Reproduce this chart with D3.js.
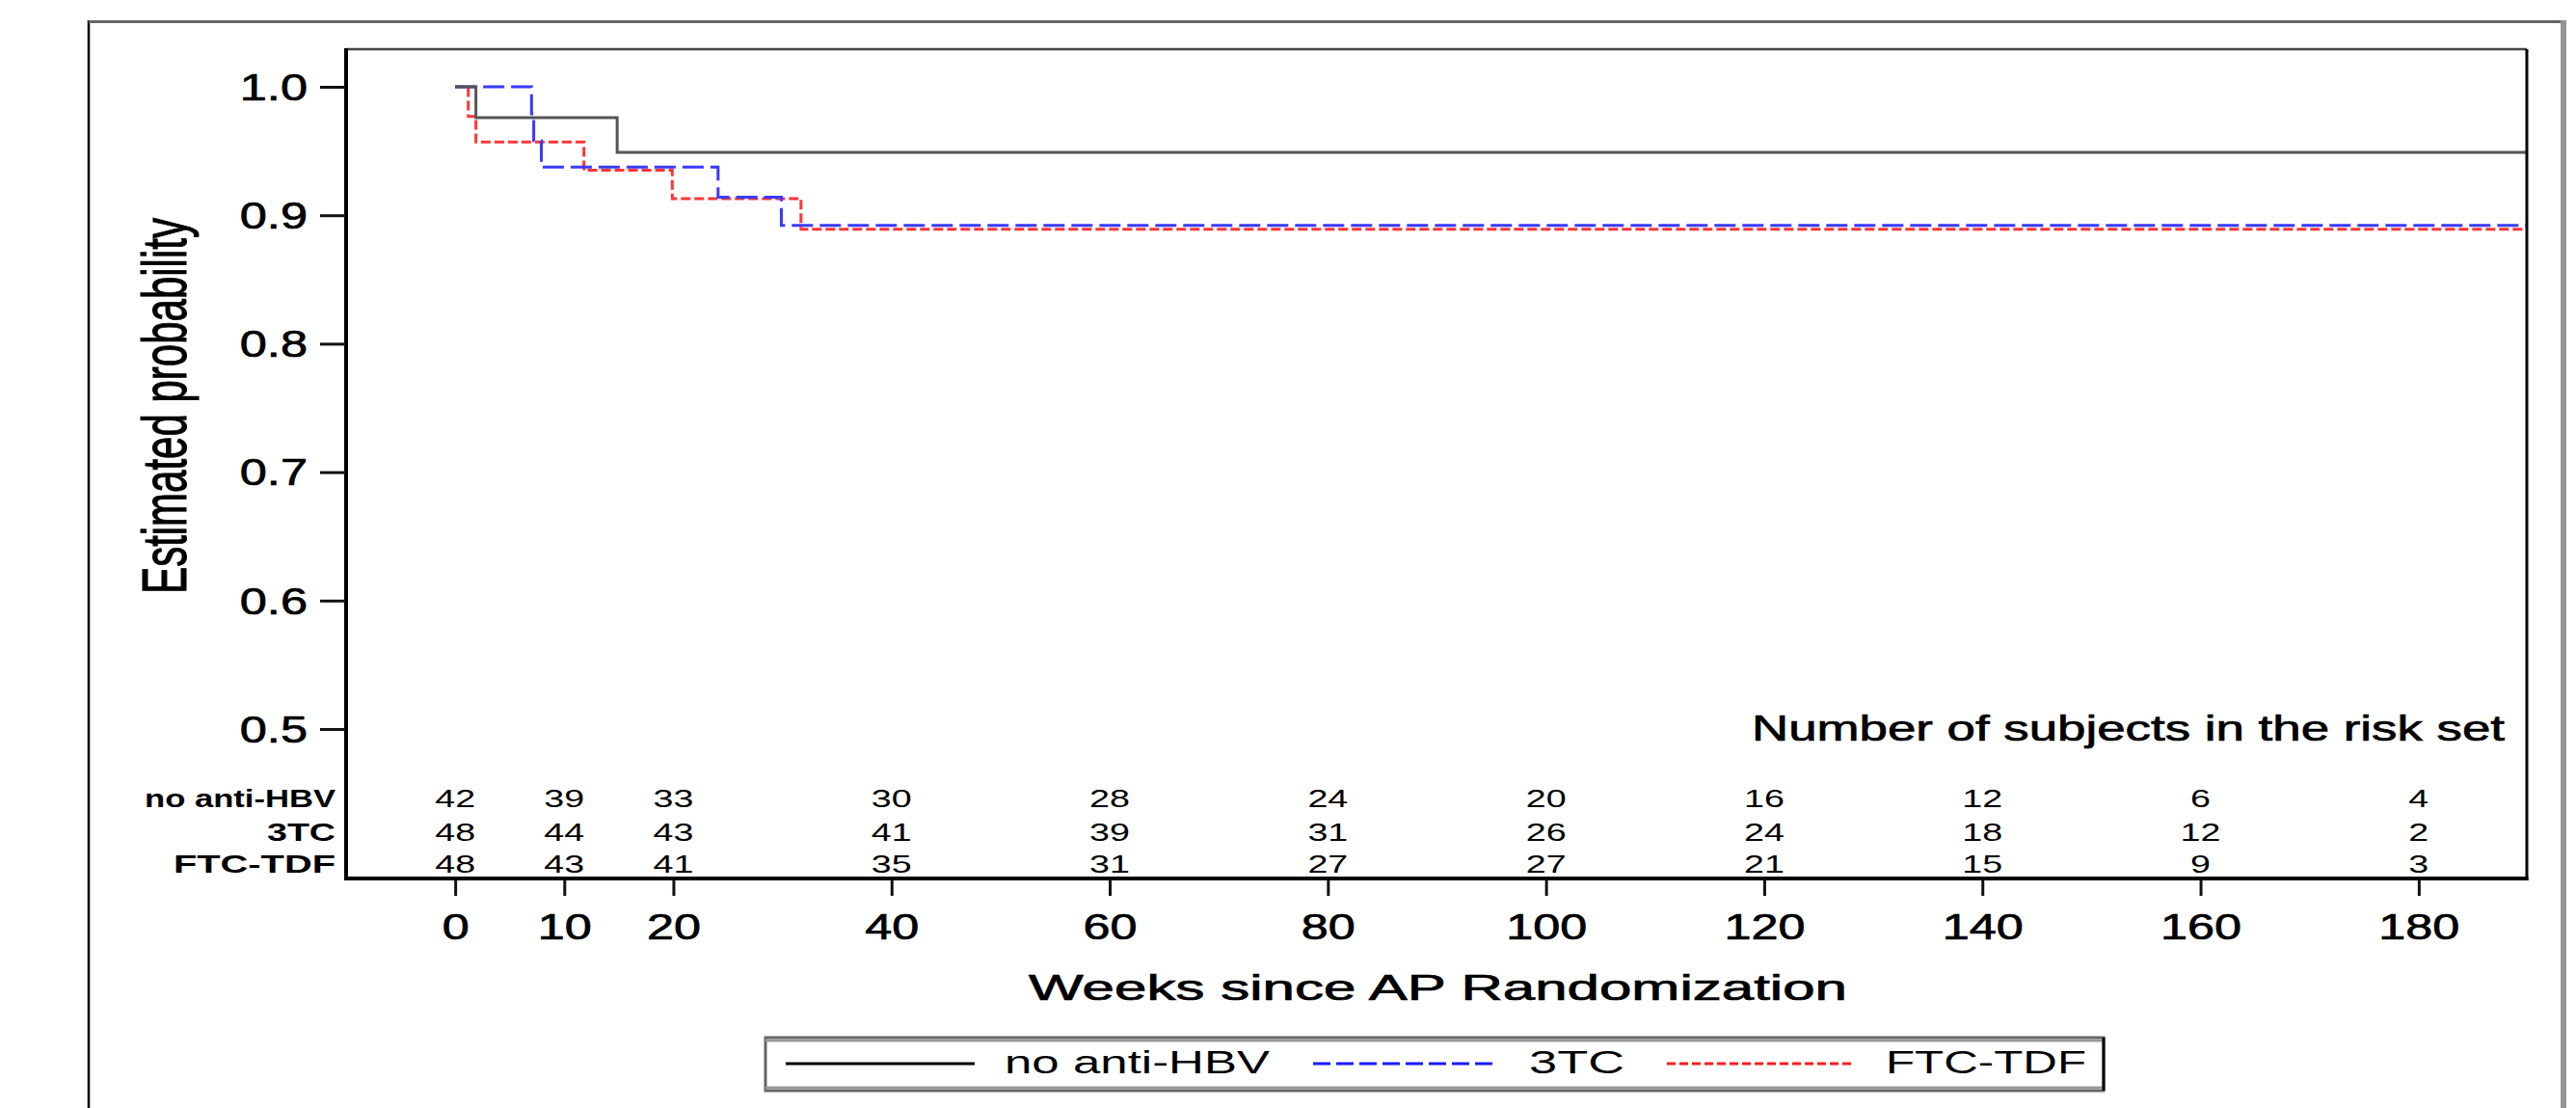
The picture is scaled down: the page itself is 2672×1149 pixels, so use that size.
<!DOCTYPE html>
<html>
<head>
<meta charset="utf-8">
<script src="https://cdn.jsdelivr.net/npm/d3@7"></script>
<style>
  html, body { margin: 0; padding: 0; background: #fff; }
  svg { display: block; }
  text { font-family: "Liberation Sans", Arial, sans-serif; fill: #000; }
  .heavy { stroke: #000; stroke-width: 0.7px; }
</style>
</head>
<body>
<svg id="chart" width="2672" height="1149"></svg>
<script>
// ---------------- DATA ----------------
const groups = ["no anti-HBV", "3TC", "FTC-TDF"];

// Kaplan-Meier step points (weeks, estimated probability after step)
const noHbvTimes = [0, 1.9, 14.85, 190];
const noHbvSurv  = [1.0, 0.976, 0.949, 0.949];

const tcTimes = [0, 7.0, 7.2, 7.9, 24.1, 29.9, 190];
const tcSurv  = [1.0, 0.979, 0.958, 0.9375, 0.914, 0.892, 0.892];

const ftcTimes = [0, 1.2, 1.9, 11.8, 19.9, 31.7, 190];
const ftcSurv  = [1.0, 0.977, 0.957, 0.935, 0.913, 0.889, 0.889];

// Number at risk table
const riskTimes  = [0, 10, 20, 40, 60, 80, 100, 120, 140, 160, 180];
const riskNoHbv  = [42, 39, 33, 30, 28, 24, 20, 16, 12, 6, 4];
const riskTC     = [48, 44, 43, 41, 39, 31, 26, 24, 18, 12, 2];
const riskFTC    = [48, 43, 41, 35, 31, 27, 27, 21, 15, 9, 3];

const xTickValues = [0, 10, 20, 40, 60, 80, 100, 120, 140, 160, 180];
const yTickValues = [0.5, 0.6, 0.7, 0.8, 0.9, 1.0];

const xLabel = "Weeks since AP Randomization";
const yLabel = "Estimated probability";
const riskTitle = "Number of subjects in the risk set";

// ---------------- LAYOUT ----------------
const svg = d3.select("#chart");
const L = 359, R = 2621, T = 51, B = 911;

const x = d3.scaleLinear().domain([-10, 190]).range([L, R + 1]);
const y = d3.scaleLinear().domain([0.3836, 1.0293]).range([B, T]);

// outer frame
svg.append("line").attr("x1", 92).attr("x2", 92).attr("y1", 21).attr("y2", 1149)
  .attr("stroke", "#000").attr("stroke-width", 2.5);
svg.append("line").attr("x1", 92).attr("x2", 2662).attr("y1", 22.5).attr("y2", 22.5)
  .attr("stroke", "#666").attr("stroke-width", 3);
svg.append("line").attr("x1", 2659).attr("x2", 2659).attr("y1", 21).attr("y2", 1149)
  .attr("stroke", "#959595").attr("stroke-width", 6);

// clip for curves
svg.append("defs").append("clipPath").attr("id", "plotclip")
  .append("rect").attr("x", L).attr("y", T - 2).attr("width", R - L + 8).attr("height", B - T + 2);

// curves
const series = [
  { t: noHbvTimes, s: noHbvSurv, color: "#555", dash: null },
  { t: tcTimes, s: tcSurv, color: "#3a3aff", dash: "22,7" },
  { t: ftcTimes, s: ftcSurv, color: "#ff3535", dash: "10,4" }
];
const line = d3.line().x(d => x(d[0])).y(d => y(d[1])).curve(d3.curveStepAfter);
const cg = svg.append("g").attr("clip-path", "url(#plotclip)");
[series[2], series[1], series[0]].forEach(sr => {
  const pts = sr.t.map((t, i) => [t, sr.s[i]]);
  cg.append("path").datum(pts).attr("d", line)
    .attr("fill", "none").attr("stroke", sr.color).attr("stroke-width", 3)
    .attr("stroke-dasharray", sr.dash);
});

// plot frame
svg.append("line").attr("x1", L).attr("x2", R).attr("y1", T).attr("y2", T)
  .attr("stroke", "#444").attr("stroke-width", 2.5);
svg.append("line").attr("x1", R).attr("x2", R).attr("y1", T).attr("y2", B + 2)
  .attr("stroke", "#000").attr("stroke-width", 3);
svg.append("line").attr("x1", L).attr("x2", L).attr("y1", T - 1).attr("y2", B + 2)
  .attr("stroke", "#000").attr("stroke-width", 4);
svg.append("line").attr("x1", L - 2).attr("x2", R + 1.5).attr("y1", B).attr("y2", B)
  .attr("stroke", "#000").attr("stroke-width", 4);

// Y axis
const yAxis = svg.append("g").attr("transform", `translate(${L - 1},0)`)
  .call(d3.axisLeft(y).tickValues(yTickValues).tickFormat(d3.format(".1f")).tickSize(26).tickPadding(14));
yAxis.select(".domain").remove();
yAxis.selectAll(".tick line").attr("stroke", "#111").attr("stroke-width", 3);
yAxis.selectAll(".tick text")
  .attr("class", "heavy")
  .attr("x", 0).attr("dy", "0.35em")
  .attr("transform", "translate(-39,0) scale(1.33,1)")
  .style("font-size", "38px").style("font-family", "'Liberation Sans', Arial, sans-serif");

// X axis
const xAxis = svg.append("g").attr("transform", `translate(0,${B + 1})`)
  .call(d3.axisBottom(x).tickValues(xTickValues).tickFormat(d3.format("d")).tickSize(17).tickPadding(18));
xAxis.select(".domain").remove();
xAxis.selectAll(".tick line").attr("stroke", "#111").attr("stroke-width", 3);
xAxis.selectAll(".tick text")
  .attr("class", "heavy")
  .attr("x", 0).attr("y", 62).attr("dy", null)
  .attr("transform", "scale(1.36,1)")
  .style("font-size", "37px").style("font-family", "'Liberation Sans', Arial, sans-serif");

// Axis labels
svg.append("text")
  .attr("class", "heavy")
  .attr("transform", "translate(193,421) scale(1.55,1) rotate(-90)")
  .attr("text-anchor", "middle")
  .style("font-size", "42px")
  .text(yLabel);

svg.append("text")
  .attr("class", "heavy")
  .attr("x", 1491.5).attr("y", 1037)
  .attr("text-anchor", "middle")
  .attr("textLength", 849).attr("lengthAdjust", "spacingAndGlyphs")
  .style("font-size", "36px")
  .text(xLabel);

// risk table title
svg.append("text")
  .attr("class", "heavy")
  .attr("x", 2598).attr("y", 768)
  .attr("text-anchor", "end")
  .attr("textLength", 781).attr("lengthAdjust", "spacingAndGlyphs")
  .style("font-size", "37px")
  .text(riskTitle);

// risk table
const riskRows = [riskNoHbv, riskTC, riskFTC];
const rowBase = [837, 872, 905];
const rowLabelLen = [198, 71, 168];
groups.forEach((g, i) => {
  svg.append("text")
    .attr("x", 348).attr("y", rowBase[i])
    .attr("text-anchor", "end")
    .attr("textLength", rowLabelLen[i]).attr("lengthAdjust", "spacingAndGlyphs")
    .style("font-size", "26px").style("font-weight", "bold")
    .text(g);
  const rg = svg.append("g");
  rg.selectAll("text").data(riskTimes).join("text")
    .attr("transform", (d) => `translate(${x(d)},${rowBase[i]}) scale(1.45,1)`)
    .attr("text-anchor", "middle")
    .style("font-size", "26px")
    .text((d, j) => riskRows[i][j]);
});

// Legend
svg.append("rect").attr("x", 794).attr("y", 1076).attr("width", 1388).attr("height", 55)
  .attr("fill", "#fff").attr("stroke", "#666").attr("stroke-width", 3);
svg.append("line").attr("x1", 794).attr("x2", 2182).attr("y1", 1079).attr("y2", 1079)
  .attr("stroke", "#999").attr("stroke-width", 3);
svg.append("line").attr("x1", 794).attr("x2", 2182).attr("y1", 1128).attr("y2", 1128)
  .attr("stroke", "#999").attr("stroke-width", 3);
svg.append("line").attr("x1", 2182).attr("x2", 2182).attr("y1", 1076).attr("y2", 1131)
  .attr("stroke", "#000").attr("stroke-width", 3);

const legendItems = [
  { label: groups[0], color: "#000", dash: null, x1: 815, x2: 1011, tx: 1042, tl: 275 },
  { label: groups[1], color: "#1a1aff", dash: "18,6", x1: 1362, x2: 1552, tx: 1586, tl: 99 },
  { label: groups[2], color: "#ff1a1a", dash: "9,4", x1: 1729, x2: 1922, tx: 1956, tl: 208 }
];
legendItems.forEach(it => {
  svg.append("line").attr("x1", it.x1).attr("x2", it.x2).attr("y1", 1103).attr("y2", 1103)
    .attr("stroke", it.color).attr("stroke-width", 3).attr("stroke-dasharray", it.dash);
  svg.append("text").attr("x", it.tx).attr("y", 1113)
    .attr("textLength", it.tl).attr("lengthAdjust", "spacingAndGlyphs")
    .style("font-size", "33px")
    .text(it.label);
});
</script>
</body>
</html>
